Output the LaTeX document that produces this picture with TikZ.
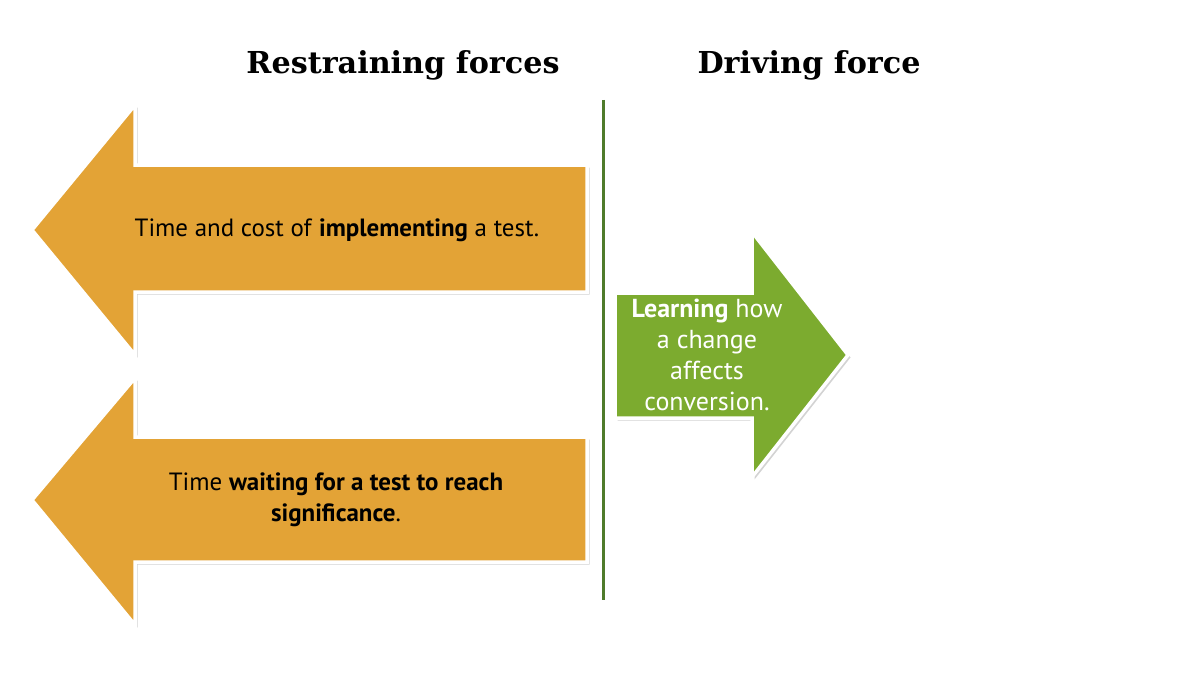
\documentclass[tikz,border=0pt]{standalone}
\usepackage{fontspec}
\setmainfont{PT Sans}
\newfontfamily\headfont{DejaVu Serif}
\usetikzlibrary{shadows}
\definecolor{restrainorange}{HTML}{E3A336}
\definecolor{drivegreen}{HTML}{7CAB2F}
\definecolor{dividergreen}{HTML}{4F7B2B}
\begin{document}
\begin{tikzpicture}[x=0.02cm,y=-0.02cm]
    %
    % `forcearrow' is used for the three big arrows.
    % `heading' is used for the two column titles.
    % `label' is used for the text on the arrows.
    \tikzstyle{forcearrow} = [draw=white,line width=0.07cm,line join=miter,
        drop shadow={shadow xshift=0.05cm,shadow yshift=-0.05cm,opacity=0.35}]
    \tikzstyle{heading} = [font=\headfont\bfseries\fontsize{17.2}{20}\selectfont]
    \tikzstyle{label} = [align=center,font=\fontsize{14.2}{17.5}\selectfont]
    \useasboundingbox (0,0) rectangle (1200,686);
    %
    % Restraining forces
    \draw[forcearrow,fill=restrainorange] (587,165) -- (135,165) -- (135,105) -- (32,230)
        -- (135,355) -- (135,292) -- (587,292) -- cycle;
    \draw[forcearrow,fill=restrainorange] (587,437) -- (135,437) -- (135,378) -- (32,500)
        -- (135,625) -- (135,562) -- (587,562) -- cycle;
    \node[label] (restrain1) at (337,230) {Time and cost of \textbf{implementing} a test.};
    \node[label] (restrain2) at (336,500) {Time \textbf{waiting for a test to reach}\\\textbf{significance}.};
    %
    % Driving force
    \draw[forcearrow,fill=drivegreen] (615,293) -- (752,293) -- (752,232) -- (848,355)
        -- (752,477) -- (752,418) -- (615,418) -- cycle;
    \node[label,text=white,font=\fontsize{14.8}{17.5}\selectfont] (driving) at (707,355)
        {\textbf{Learning} how\\a change\\affects\\conversion.};
    %
    % Divider
    \coordinate (divtop) at (603,100);
    \coordinate (divbot) at (603,600);
    \draw[dividergreen,line width=0.06cm] (divtop) -- (divbot);
    %
    % Headings
    \node[heading] (restrainhead) at (403,65) {Restraining forces};
    \node[heading] (drivinghead) at (809,65) {Driving force};
\end{tikzpicture}
\end{document}
